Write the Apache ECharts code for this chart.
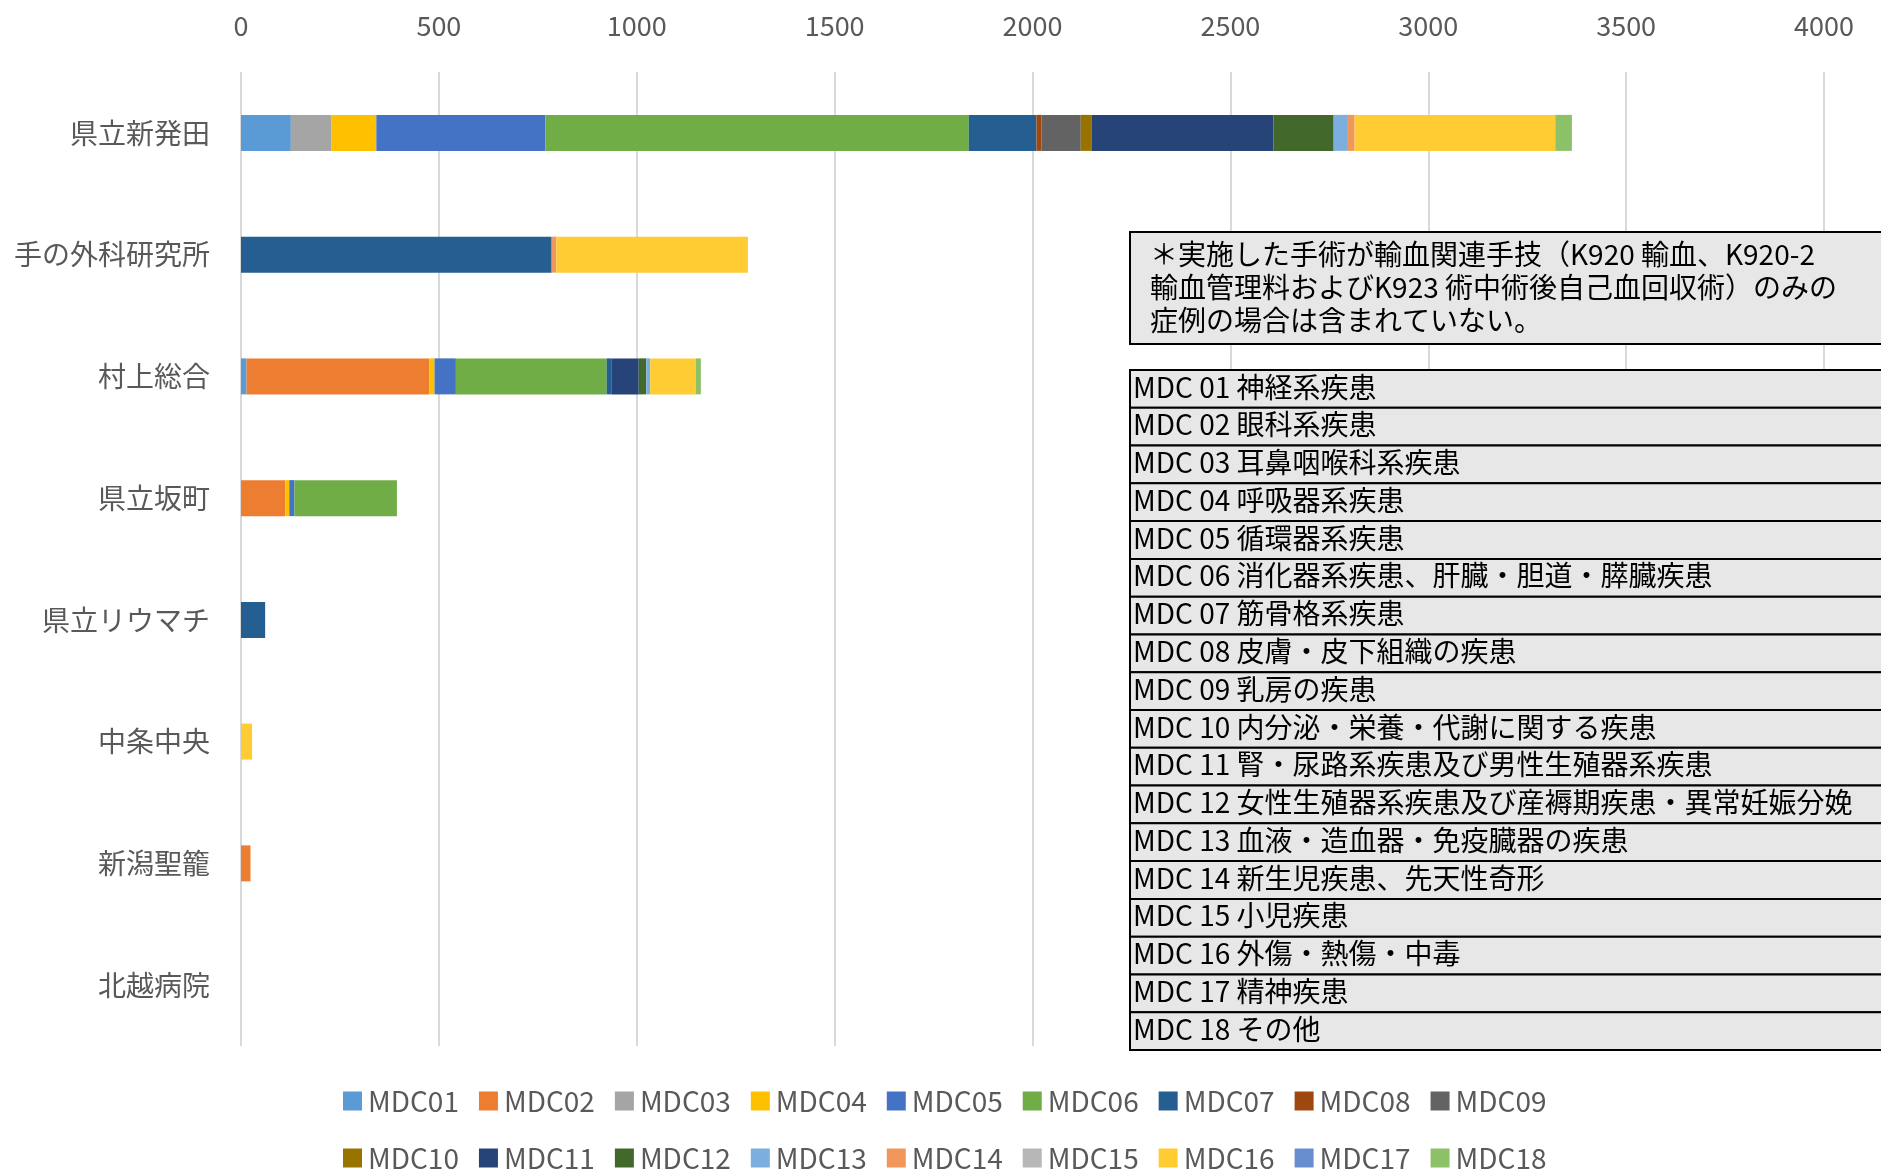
<!DOCTYPE html>
<html>
<head>
<meta charset="utf-8">
<script src="https://cdn.jsdelivr.net/npm/echarts@6/dist/echarts.min.js"></script>
<style>
  html, body { margin: 0; padding: 0; background: #fff; }
  #chart { width: 1881px; height: 1174px; }
</style>
</head>
<body>
<div id="chart"></div>
<script>
// 病院（上から順）
const hospitals = ['県立新発田', '手の外科研究所', '村上総合', '県立坂町', '県立リウマチ', '中条中央', '新潟聖籠', '北越病院'];

// MDC別の件数（病院の並び順）
const mdc01 = [126, 0, 14, 0, 0, 0, 0, 0];
const mdc02 = [0, 0, 462, 112, 0, 0, 24, 0];
const mdc03 = [103, 0, 0, 0, 0, 0, 0, 0];
const mdc04 = [113, 0, 13, 10, 0, 0, 0, 0];
const mdc05 = [427, 0, 54, 13, 0, 0, 0, 0];
const mdc06 = [1070, 0, 381, 259, 0, 0, 0, 0];
const mdc07 = [171, 785, 13, 0, 61, 0, 0, 0];
const mdc08 = [13, 0, 0, 0, 0, 0, 0, 0];
const mdc09 = [99, 0, 0, 0, 0, 0, 0, 0];
const mdc10 = [27, 0, 0, 0, 0, 0, 0, 0];
const mdc11 = [460, 0, 68, 0, 0, 0, 0, 0];
const mdc12 = [152, 0, 19, 0, 0, 0, 0, 0];
const mdc13 = [36, 0, 10, 0, 0, 0, 0, 0];
const mdc14 = [17, 12, 0, 0, 0, 0, 0, 0];
const mdc15 = [0, 0, 0, 0, 0, 0, 0, 0];
const mdc16 = [507, 484, 115, 0, 0, 28, 0, 0];
const mdc17 = [0, 0, 0, 0, 0, 0, 0, 0];
const mdc18 = [42, 0, 13, 0, 0, 0, 0, 0];

const seriesNames = ['MDC01', 'MDC02', 'MDC03', 'MDC04', 'MDC05', 'MDC06', 'MDC07', 'MDC08', 'MDC09',
                     'MDC10', 'MDC11', 'MDC12', 'MDC13', 'MDC14', 'MDC15', 'MDC16', 'MDC17', 'MDC18'];
const seriesValues = [mdc01, mdc02, mdc03, mdc04, mdc05, mdc06, mdc07, mdc08, mdc09,
                      mdc10, mdc11, mdc12, mdc13, mdc14, mdc15, mdc16, mdc17, mdc18];

// 注記とMDC名称の表
const noteLines = [
  '＊実施した手術が輸血関連手技（K920 輸血、K920-2',
  '輸血管理料およびK923 術中術後自己血回収術）のみの',
  '症例の場合は含まれていない。'
];
const mdcNames = [
  'MDC 01 神経系疾患', 'MDC 02 眼科系疾患', 'MDC 03 耳鼻咽喉科系疾患', 'MDC 04 呼吸器系疾患',
  'MDC 05 循環器系疾患', 'MDC 06 消化器系疾患、肝臓・胆道・膵臓疾患', 'MDC 07 筋骨格系疾患',
  'MDC 08 皮膚・皮下組織の疾患', 'MDC 09 乳房の疾患', 'MDC 10 内分泌・栄養・代謝に関する疾患',
  'MDC 11 腎・尿路系疾患及び男性生殖器系疾患', 'MDC 12 女性生殖器系疾患及び産褥期疾患・異常妊娠分娩',
  'MDC 13 血液・造血器・免疫臓器の疾患', 'MDC 14 新生児疾患、先天性奇形', 'MDC 15 小児疾患',
  'MDC 16 外傷・熱傷・中毒', 'MDC 17 精神疾患', 'MDC 18 その他'
];

const xTicks = { min: 0, max: 4000, interval: 500 };

const colors = ['#5B9BD5', '#ED7D31', '#A5A5A5', '#FFC000', '#4472C4', '#70AD47', '#255E91', '#9E480E', '#636363',
                '#997300', '#264478', '#43682B', '#7CAFDD', '#F1975A', '#B7B7B7', '#FFCD33', '#698ED0', '#8CC168'];

const font = '"Noto Sans CJK JP", "Noto Sans", sans-serif';

let myChart = echarts.init(document.getElementById('chart'));

let graphics = [];
graphics.push({
  type: 'rect', z: 100,
  shape: { x: 1130, y: 232, width: 760, height: 112 },
  style: { fill: '#e7e7e7', stroke: '#000', lineWidth: 2 }
});
noteLines.forEach((t, i) => {
  graphics.push({
    type: 'text', z: 101, x: 1150, y: 254 + i * 33,
    style: { text: t, font: '28px ' + font, fill: '#000', textVerticalAlign: 'middle' }
  });
});
const rowH = 680 / mdcNames.length;
mdcNames.forEach((t, i) => {
  graphics.push({
    type: 'rect', z: 100,
    shape: { x: 1130, y: 370 + i * rowH, width: 760, height: rowH },
    style: { fill: '#e7e7e7', stroke: '#000', lineWidth: 2 }
  });
  graphics.push({
    type: 'text', z: 101, x: 1133, y: 370 + i * rowH + rowH / 2 - 2,
    style: { text: t, font: '28px ' + font, fill: '#000', textVerticalAlign: 'middle' }
  });
});

let series = seriesNames.map((name, i) => ({
  name: name,
  type: 'bar',
  stack: 'total',
  barWidth: 36,
  data: seriesValues[i],
  itemStyle: { color: colors[i] }
}));

let legendStyle = {
  left: 338, orient: 'horizontal', itemWidth: 19, itemHeight: 19, itemGap: 20,
  icon: 'rect',
  textStyle: { fontSize: 28, color: '#595959', fontFamily: font, padding: [0, 0, 0, 1] }
};

let option = {
  animation: false,
  color: colors,
  grid: { left: 241, right: 57, top: 72, bottom: 128, containLabel: false },
  legend: [
    Object.assign({ top: 1082, data: seriesNames.slice(0, 9) }, legendStyle),
    Object.assign({ top: 1139, data: seriesNames.slice(9) }, legendStyle)
  ],
  xAxis: {
    type: 'value',
    position: 'top',
    min: xTicks.min, max: xTicks.max, interval: xTicks.interval,
    axisLine: { show: false },
    axisTick: { show: false },
    axisLabel: { color: '#595959', fontSize: 27, fontFamily: font, margin: 33, formatter: v => String(v) },
    splitLine: { lineStyle: { color: '#d9d9d9', width: 2 } }
  },
  yAxis: {
    type: 'category',
    inverse: true,
    data: hospitals,
    axisLine: { show: false },
    axisTick: { show: false },
    axisLabel: { color: '#595959', fontSize: 28, fontFamily: font, margin: 31 }
  },
  series: series,
  graphic: graphics
};

myChart.setOption(option);
</script>
</body>
</html>
